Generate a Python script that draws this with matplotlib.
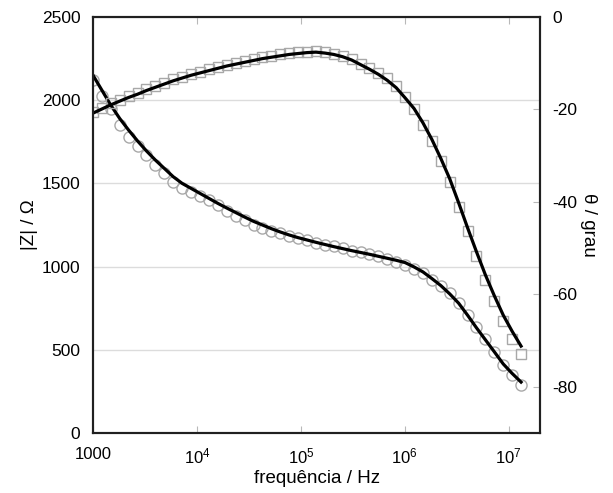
import matplotlib
matplotlib.use("Agg")
import matplotlib.pyplot as plt

plt.rcParams["font.family"] = ["Liberation Sans", "DejaVu Sans"]
plt.rcParams["mathtext.fontset"] = "custom"
plt.rcParams["mathtext.rm"] = "Liberation Sans"
plt.rcParams["mathtext.default"] = "regular"
plt.rcParams["axes.unicode_minus"] = False

# measured frequencies (Hz)
freq = [
    1000, 1218, 1484, 1808, 2204, 2685, 3271, 3986, 4857, 5918,
    7211, 8787, 10706, 13045, 15896, 19364, 23598, 28749, 35032, 42687,
    52000, 63372, 77200, 94060, 114600, 139600, 170100, 207300, 252600, 307700,
    375000, 456900, 556700, 678300, 826400, 1.007e6, 1.227e6, 1.495e6, 1.822e6, 2.220e6,
    2.704e6, 3.295e6, 4.015e6, 4.892e6, 5.960e6, 7.261e6, 8.847e6, 1.078e7, 1.313e7,
]

# |Z| (ohm), experimental
z_exp = [
    2120, 2025, 1945, 1850, 1780, 1725, 1672, 1612, 1562, 1510,
    1475, 1450, 1425, 1400, 1372, 1335, 1305, 1280, 1252, 1232,
    1215, 1200, 1182, 1170, 1158, 1143, 1132, 1123, 1110, 1096,
    1087, 1078, 1062, 1045, 1025, 1010, 988, 960, 919, 884,
    840, 779, 709, 639, 563, 489, 409, 349, 288,
]

# |Z| (ohm), fit
z_fit = [
    2150, 2060, 1970, 1890, 1820, 1755, 1695, 1640, 1590, 1540,
    1500, 1470, 1440, 1410, 1380, 1352, 1325, 1298, 1272, 1250,
    1228, 1208, 1190, 1174, 1160, 1146, 1133, 1120, 1108, 1096,
    1085, 1074, 1062, 1050, 1038, 1024, 998, 968, 928, 886,
    836, 780, 708, 632, 560, 488, 415, 358, 306,
]

# phase (degrees), experimental
th_exp = [
    -20.5, -19.6, -18.7, -17.9, -17.1, -16.4, -15.6, -14.9, -14.2, -13.5,
    -12.9, -12.3, -11.8, -11.3, -10.8, -10.3, -9.9, -9.5, -9.1, -8.7,
    -8.4, -8.1, -7.8, -7.6, -7.5, -7.4, -7.6, -7.9, -8.4, -9.1,
    -10.1, -11.1, -12.1, -13.3, -14.9, -17.2, -20.0, -23.3, -26.9, -31.2,
    -35.8, -41.0, -46.4, -51.7, -56.8, -61.4, -65.8, -69.7, -72.9,
]

# phase (degrees), fit
th_fit = [
    -20.8, -19.9, -19.0, -18.2, -17.4, -16.7, -15.9, -15.2, -14.5, -13.8,
    -13.2, -12.6, -12.1, -11.6, -11.1, -10.6, -10.2, -9.8, -9.4, -9.0,
    -8.7, -8.4, -8.1, -7.9, -7.7, -7.6, -7.8, -8.1, -8.6, -9.3,
    -10.3, -11.3, -12.4, -13.7, -15.3, -17.5, -19.8, -22.9, -26.5, -30.6,
    -35.0, -40.2, -45.6, -50.8, -55.8, -60.3, -64.5, -68.0, -71.2,
]

fig = plt.figure(figsize=(6.13, 4.93), dpi=100)
ax = fig.add_axes([0.1517, 0.1217, 0.7293, 0.8438])
ax2 = ax.twinx()

grey = "#a8a8a8"
ax.plot(freq, z_exp, "o", ms=8, mfc="none", mec=grey, mew=1.0)
ax.plot(freq, z_fit, "-", color="black", lw=2.3)
ax2.plot(freq, th_exp, "s", ms=7.5, mfc="none", mec=grey, mew=1.0)
ax2.plot(freq, th_fit, "-", color="black", lw=2.3)

ax.set_xscale("log")
ax.set_xlim(1000, 2e7)
ax.set_ylim(0, 2500)
ax.set_yticks([0, 500, 1000, 1500, 2000, 2500])
ax2.set_ylim(-90, 0)
ax2.set_yticks([-80, -60, -40, -20, 0])

ax.set_xticks([1e3, 1e4, 1e5, 1e6, 1e7])
ax.set_xticklabels(["1000", "$10^4$", "$10^5$", "$10^6$", "$10^7$"])
ax.xaxis.set_minor_locator(matplotlib.ticker.NullLocator())

ax.grid(axis="y", color="#dcdcdc", lw=1.0)
ax.set_axisbelow(True)

ax.tick_params(axis="x", which="both", direction="in", top=True, length=5,
               color="#b8b8b8", labelsize=12, pad=10)
ax.tick_params(axis="y", direction="in", length=0, labelsize=12.5, pad=9)
ax2.tick_params(axis="y", direction="in", length=5, color="#b8b8b8",
                labelsize=12.5, pad=9)

for a in (ax, ax2):
    for s in a.spines.values():
        s.set_linewidth(1.5)
        s.set_color("#202020")

ax.set_xlabel("frequência / Hz", fontsize=13.5, labelpad=2)
ax.set_ylabel("|Z| / Ω", fontsize=13.5, labelpad=3)
ax2.set_ylabel("θ / grau", fontsize=13.5, rotation=270, labelpad=14)

fig.savefig("out.png", dpi=100)
